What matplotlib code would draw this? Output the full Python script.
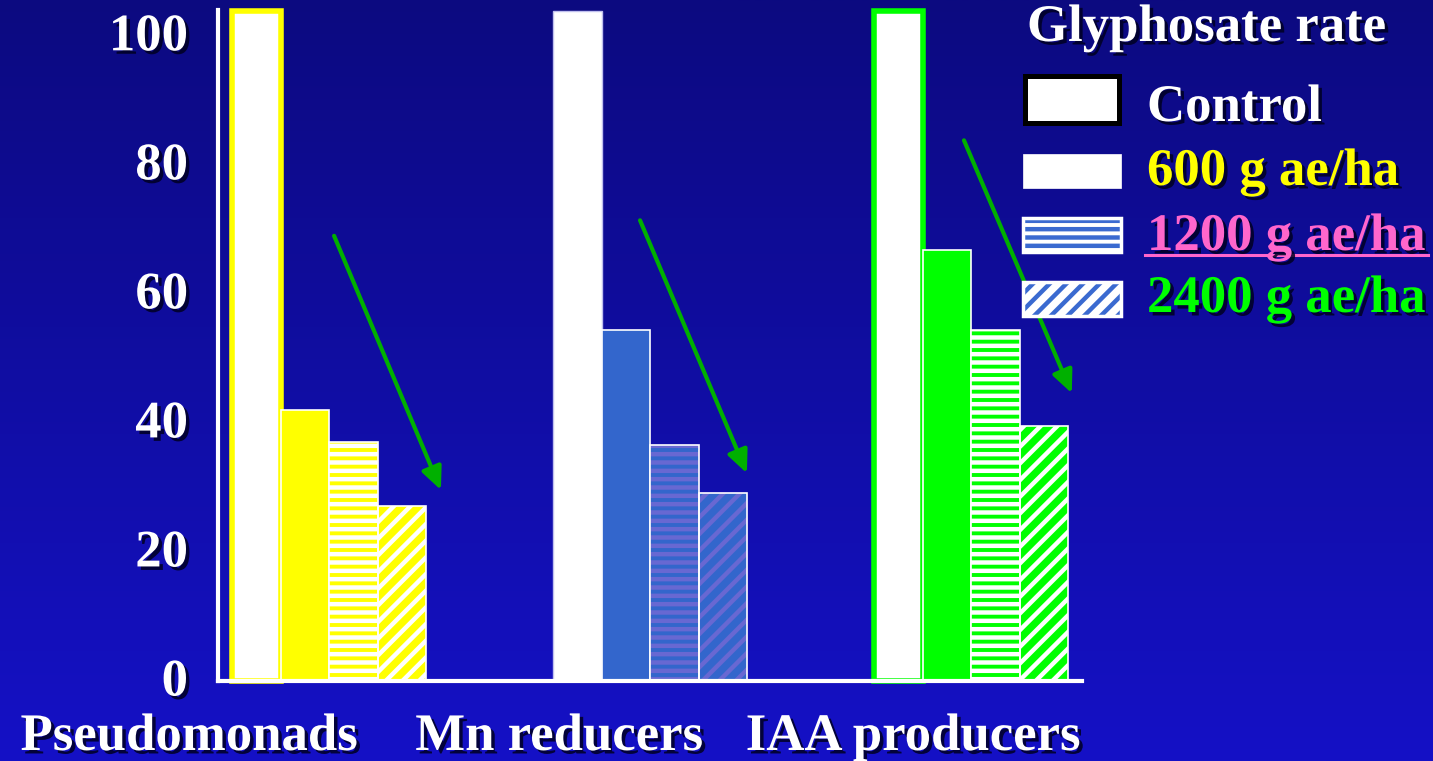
import numpy as np
import matplotlib
matplotlib.use('Agg')
import matplotlib.pyplot as plt
import matplotlib.patheffects as pe
import matplotlib.transforms as mtransforms
from matplotlib.patches import Rectangle
from matplotlib.lines import Line2D

# ---------------- data ----------------
groups = ['Pseudomonads', 'Mn reducers', 'IAA producers']
series = ['Control', '600 g ae/ha', '1200 g ae/ha', '2400 g ae/ha']
control = [103.8, 103.8, 103.8]
rate600 = [42.0, 54.4, 66.8]
rate1200 = [37.0, 36.6, 54.4]
rate2400 = [27.1, 29.1, 39.5]
yticks = [0, 20, 40, 60, 80, 100]
legend_title = 'Glyphosate rate'

# arrow annotations (data coordinates)
arrow_start_x = [2.10, 8.40, 15.07]
arrow_start_y = [69.0, 71.4, 83.8]
arrow_end_x = [4.30, 10.60, 17.29]
arrow_end_y = [29.6, 32.2, 44.6]

# ---------------- style ----------------
W, H, DPI = 1433, 761, 100
FONT = 'Liberation Serif'
FS = 38
plt.rcParams['hatch.linewidth'] = 3.2

group_main = ['#ffff00', '#3366cc', '#00ff00']
group_stripe = ['#ffffff', '#6868d2', '#ffffff']
ctrl_edge = ['#ffff00', '#c0c0ee', '#00ff00']
ctrl_lw = [4.0, 1.0, 4.0]
legend_text_colors = ['#ffffff', '#ffff00', '#ff66cc', '#00ff00']
shadow = [pe.SimplePatchShadow(offset=(2.5, -2.5), shadow_rgbFace='#000022', alpha=0.85), pe.Normal()]

fig = plt.figure(figsize=(W / DPI, H / DPI), dpi=DPI)

# background gradient
bg = fig.add_axes([0, 0, 1, 1], zorder=-10)
top = np.array([12, 10, 128]) / 255.0
bot = np.array([21, 17, 198]) / 255.0
t = np.linspace(0, 1, 256)[:, None]
grad = (top[None, :] * (1 - t) + bot[None, :] * t)[:, None, :]
bg.imshow(grad, aspect='auto', extent=[0, 1, 0, 1])
bg.set_axis_off()

def fx(px):
    return px / W

def fy(py):
    return (H - py) / H

ax = fig.add_axes([fx(218), fy(681), (1082 - 218) / W, (681 - 10) / H])
ax.set_facecolor('none')
ax.set_xlim(-0.29, 17.5)
ax.set_ylim(0, 104)

gap = 6.61
bw = 1.0
for i in range(len(groups)):
    base = i * gap
    xs = [base + j + 0.5 for j in range(4)]
    # control
    ax.bar(xs[0], control[i], width=bw, color='white', edgecolor=ctrl_edge[i],
           linewidth=ctrl_lw[i], clip_on=False, zorder=2)
    # 600
    ax.bar(xs[1], rate600[i], width=bw, color=group_main[i], edgecolor='white',
           linewidth=1.2, zorder=3)
    # 1200 horizontal stripes
    ax.bar(xs[2], rate1200[i], width=bw, color=group_main[i], edgecolor=group_stripe[i],
           linewidth=0, hatch='--', zorder=3)
    ax.bar(xs[2], rate1200[i], width=bw, fill=False, edgecolor='white', linewidth=1.2, zorder=4)
    # 2400 diagonal stripes
    ax.bar(xs[3], rate2400[i], width=bw, color=group_main[i], edgecolor=group_stripe[i],
           linewidth=0, hatch='//', zorder=3)
    ax.bar(xs[3], rate2400[i], width=bw, fill=False, edgecolor='white', linewidth=1.2, zorder=4)

for sx, sy, ex, ey in zip(arrow_start_x, arrow_start_y, arrow_end_x, arrow_end_y):
    ax.annotate('', xy=(ex, ey), xytext=(sx, sy),
                arrowprops=dict(arrowstyle='-|>,head_length=0.55,head_width=0.25',
                                color='#00b000', lw=3, mutation_scale=25,
                                shrinkA=0, shrinkB=0), zorder=6)

for s in ['top', 'right']:
    ax.spines[s].set_visible(False)
for s in ['left', 'bottom']:
    ax.spines[s].set_color('white')
    ax.spines[s].set_linewidth(3)
    ax.spines[s].set_zorder(5)
ax.set_xticks([])
ax.set_yticks(yticks)
ax.set_yticklabels([])
ax.tick_params(axis='y', length=0)

# y tick labels as text, nudged slightly upward like the reference
lab_tr = ax.get_yaxis_transform() + mtransforms.ScaledTranslation(-30 / DPI, 4 / DPI, fig.dpi_scale_trans)
for v in yticks:
    ax.text(0, v, str(v), transform=lab_tr, ha='right', va='center_baseline', fontsize=FS,
            fontfamily=FONT, fontweight='bold', color='white', path_effects=shadow, clip_on=False)

# category labels
cat_x = [189, 559, 913]
for name, cx in zip(groups, cat_x):
    fig.text(fx(cx), fy(737), name, ha='center', va='center', fontsize=FS,
             fontfamily=FONT, fontweight='bold', color='white', path_effects=shadow)

# legend
fig.text(fx(1027), fy(41), legend_title, ha='left', va='baseline', fontsize=FS,
         fontfamily=FONT, fontweight='bold', color='white', path_effects=shadow)
baselines = [121, 185, 250, 312]
for lbl, col, b in zip(series, legend_text_colors, baselines):
    fig.text(fx(1147), fy(b), lbl, ha='left', va='baseline', fontsize=FS,
             fontfamily=FONT, fontweight='bold', color=col, path_effects=shadow)
# underline of 1200 entry
fig.add_artist(Line2D([fx(1145), fx(1428)], [fy(255), fy(255)], color='#ff66cc', lw=2.2,
                      transform=fig.transFigure))

# legend swatches
def swatch(x0, y0, x1, y1, **kw):
    r = Rectangle((fx(x0), fy(y1)), fx(x1) - fx(x0), fy(y0) - fy(y1),
                  transform=fig.transFigure, **kw)
    fig.add_artist(r)

swatch(1024.5, 75.5, 1118.5, 122.5, facecolor='white', edgecolor='black', linewidth=3.6)
swatch(1023, 154, 1121, 188, facecolor='white', edgecolor='white', linewidth=0.5)
swatch(1023, 218, 1121, 252, facecolor='white', edgecolor='#3a6ad0', linewidth=0, hatch='--')
swatch(1023, 218, 1121, 252, fill=False, edgecolor='white', linewidth=2.5)
swatch(1023, 282, 1121, 316, facecolor='white', edgecolor='#3a6ad0', linewidth=0, hatch='//')
swatch(1023, 282, 1121, 316, fill=False, edgecolor='white', linewidth=2.5)

fig.savefig('out.png', dpi=DPI)
